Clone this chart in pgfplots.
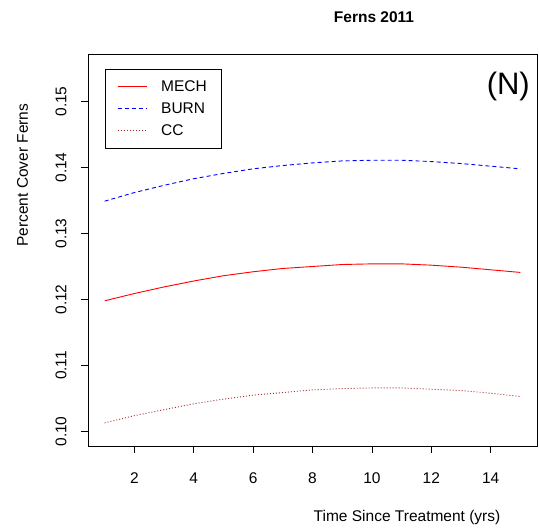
\documentclass[border=0pt]{standalone}
\usepackage{pgfplots}
\pgfplotsset{compat=1.18}
\usepackage{fontspec}
\setmainfont{Liberation Sans}
\definecolor{ccbrown}{RGB}{165,42,42}
\begin{document}
\fontsize{15.5}{18}\selectfont
\begin{tikzpicture}
\begin{axis}[
  scale only axis, width=449pt, height=392pt,
  xmin=0.44, xmax=15.56, ymin=0.0978, ymax=0.1572,
  xtick={2,4,6,8,10,12,14},
  ytick={0.10,0.11,0.12,0.13,0.14,0.15},
  yticklabel style={/pgf/number format/fixed, /pgf/number format/fixed zerofill, /pgf/number format/precision=2},
  /pgf/number format/assume math mode=true,
  tick align=outside, major tick length=7pt,
  xtick pos=lower, ytick pos=left,
  tick style={black, line width=0.6pt},
  axis line style={black, line width=0.8pt},
  x tick label style={font=\fontsize{15.5}{18}\selectfont, anchor=north},
  y tick label style={font=\fontsize{15.5}{18}\selectfont, rotate=90, anchor=south},
  xticklabel shift=14pt, yticklabel shift=9pt,
  clip=false,
  legend style={at={(rel axis cs:0,1)}, xshift=17pt, yshift=-15pt, anchor=north west,
    font=\fontsize{15.5}{18}\selectfont,
    inner xsep=12pt, inner ysep=9pt, row sep=5pt, column sep=12pt, cells={anchor=west}},
  legend image code/.code={\draw[line width=1pt,#1] (0pt,0pt) -- (29pt,0pt);},
]
\addplot[red, line width=0.9pt, forget plot] coordinates {
(1,0.1198) (2,0.1209) (3,0.1219) (4,0.1228) (5,0.1236) (6,0.1242) (7,0.1247) (8,0.1250)
(9,0.1253) (10,0.1254) (11,0.1254) (12,0.1252) (13,0.1249) (14,0.1245) (15,0.1241)};
\addplot[blue, line width=0.9pt, dash pattern=on 4pt off 3pt, forget plot] coordinates {
(1,0.1349) (2,0.1362) (3,0.1373) (4,0.1383) (5,0.1391) (6,0.1398) (7,0.1403) (8,0.1407)
(9,0.1410) (10,0.1411) (11,0.1411) (12,0.1409) (13,0.1406) (14,0.1402) (15,0.1398)};
\addplot[ccbrown, line width=0.9pt, dash pattern=on 1pt off 2pt, forget plot] coordinates {
(1,0.1013) (2,0.1024) (3,0.1033) (4,0.1042) (5,0.1049) (6,0.1055) (7,0.1059) (8,0.1063)
(9,0.1065) (10,0.1066) (11,0.1066) (12,0.1064) (13,0.1062) (14,0.1058) (15,0.1053)};
\addlegendimage{draw=red, line width=1pt}
\addlegendentry{MECH}
\addlegendimage{draw=blue, line width=1pt, dash pattern=on 4pt off 3pt}
\addlegendentry{BURN}
\addlegendimage{draw=ccbrown, line width=1pt, dash pattern=on 1pt off 2pt}
\addlegendentry{CC}
\coordinate (sw) at (rel axis cs:0,0);
\coordinate (ne) at (rel axis cs:1,1);
\node[anchor=base, font=\fontsize{15.5}{18}\selectfont\bfseries] at ([yshift=31pt]rel axis cs:0.637,1) {Ferns 2011};
\node[anchor=base, font=\fontsize{15.5}{18}\selectfont] at ([yshift=-75.7pt]rel axis cs:0.7105,0) {Time Since Treatment (yrs)};
\node[anchor=base, rotate=90, font=\fontsize{15.5}{18}\selectfont] at ([xshift=-60pt]rel axis cs:0,0.691) {Percent Cover Ferns};
\node[anchor=base east, inner sep=0pt, font=\fontsize{31}{36}\selectfont] at ([xshift=-7pt, yshift=-41pt]rel axis cs:1,1) {(N)};
\end{axis}
\pgfresetboundingbox
\path ([xshift=-88pt, yshift=-83pt]sw) rectangle ([xshift=2pt, yshift=54pt]ne);
\end{tikzpicture}
\end{document}
